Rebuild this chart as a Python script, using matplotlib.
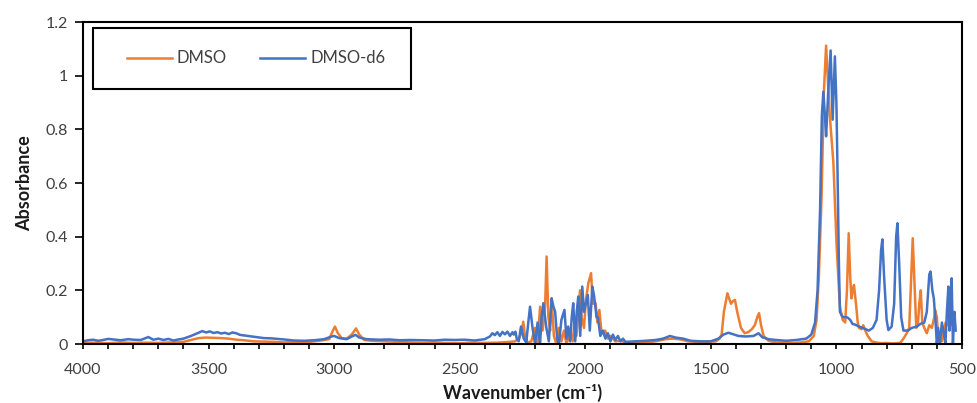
import matplotlib.pyplot as plt
from matplotlib.patches import Rectangle
from matplotlib.ticker import MultipleLocator, FuncFormatter

plt.rcParams['font.family'] = ['Lato', 'DejaVu Sans']

# DMSO spectrum
dmso_wn = [4000, 3950, 3900, 3850, 3800, 3750, 3700, 3650, 3600, 3570, 3540, 3510, 3480, 3450,
           3420, 3390, 3360, 3320, 3280, 3240, 3200, 3150, 3100, 3060, 3020, 3005, 2997, 2985,
           2970, 2950, 2930, 2913, 2900, 2880, 2850, 2800, 2760, 2700, 2650, 2600, 2550, 2500,
           2450, 2400, 2350, 2300, 2280, 2265, 2255, 2247, 2240, 2230, 2215, 2200, 2190, 2180,
           2170, 2160, 2154, 2147, 2140, 2134, 2125, 2115, 2105, 2095, 2085, 2075, 2060, 2050,
           2041, 2035, 2021, 2015, 2005, 1998, 1988, 1977, 1970, 1959, 1952, 1944, 1935, 1921,
           1910, 1900, 1880, 1860, 1840, 1800, 1760, 1720, 1680, 1650, 1620, 1590, 1550, 1510,
           1480, 1465, 1457, 1448, 1434, 1420, 1412, 1404, 1395, 1380, 1365, 1350, 1337, 1325,
           1315, 1308, 1300, 1290, 1270, 1240, 1200, 1170, 1140, 1110, 1090, 1079, 1070, 1059,
           1050, 1041, 1035, 1026, 1012, 999, 986, 975, 965, 958, 951, 945, 940, 935, 930, 922,
           915, 910, 900, 893, 885, 875, 860, 840, 820, 800, 780, 760, 745, 733, 720, 710, 702,
           696, 690, 682, 675, 670, 664, 658, 650, 640, 630, 620, 610, 607, 600, 595, 588, 580,
           572, 565, 555, 547, 540, 535, 528]
dmso_abs = [0.004, 0.005, 0.003, 0.006, 0.004, 0.005, 0.004, 0.006, 0.008, 0.015, 0.022, 0.024,
            0.023, 0.022, 0.020, 0.016, 0.014, 0.010, 0.009, 0.008, 0.006, 0.007, 0.008, 0.012,
            0.018, 0.050, 0.065, 0.040, 0.022, 0.020, 0.035, 0.058, 0.035, 0.015, 0.012, 0.010,
            0.008, 0.006, 0.004, 0.005, 0.004, 0.003, 0.005, 0.004, 0.005, 0.008, 0.010, 0.020,
            0.040, 0.083, 0.030, 0.005, 0.010, 0.060, 0.000, 0.139, 0.050, 0.140, 0.326, 0.100,
            0.050, 0.170, 0.030, 0.000, 0.060, 0.010, 0.050, 0.000, 0.040, 0.010, 0.096, 0.030,
            0.200, 0.100, 0.060, 0.160, 0.226, 0.264, 0.150, 0.152, 0.080, 0.127, 0.040, 0.050,
            0.020, 0.030, 0.010, 0.012, 0.006, 0.004, 0.006, 0.010, 0.018, 0.020, 0.017, 0.010,
            0.007, 0.008, 0.010, 0.020, 0.035, 0.120, 0.189, 0.150, 0.160, 0.164, 0.120, 0.060,
            0.040, 0.045, 0.055, 0.070, 0.100, 0.115, 0.070, 0.030, 0.012, 0.006, 0.005, 0.004,
            0.006, 0.010, 0.030, 0.090, 0.250, 0.550, 0.936, 1.112, 1.000, 0.848, 0.675, 0.363,
            0.139, 0.090, 0.080, 0.200, 0.413, 0.250, 0.170, 0.200, 0.220, 0.150, 0.080, 0.060,
            0.055, 0.070, 0.050, 0.030, 0.010, 0.005, 0.003, 0.004, 0.002, 0.003, 0.005, 0.020,
            0.040, 0.060, 0.250, 0.394, 0.250, 0.060, 0.080, 0.150, 0.200, 0.080, 0.060, 0.040,
            0.070, 0.060, 0.100, 0.127, 0.100, 0.030, 0.020, 0.010, 0.050, 0.080, 0.070, 0.127,
            0.070, 0.090, 0.070]

# DMSO-d6 spectrum
d6_wn = [4000, 3980, 3960, 3940, 3920, 3900, 3880, 3850, 3820, 3800, 3770, 3740, 3720, 3700,
         3680, 3660, 3640, 3620, 3600, 3570, 3540, 3525, 3510, 3495, 3480, 3465, 3450, 3435,
         3420, 3405, 3390, 3375, 3360, 3320, 3280, 3250, 3200, 3160, 3120, 3080, 3040,
         3010, 3000, 2980, 2950, 2930, 2915, 2900, 2870, 2820, 2780, 2740, 2700, 2650, 2600,
         2560, 2520, 2480, 2440, 2400, 2380, 2370, 2360, 2350, 2340, 2330, 2320, 2310, 2300,
         2290, 2285, 2278, 2273, 2265, 2256, 2245, 2235, 2227, 2220, 2210, 2200, 2190, 2180,
         2174, 2167, 2155, 2145, 2134, 2127, 2120, 2112, 2105, 2095, 2083, 2075, 2068, 2060,
         2054, 2048, 2040, 2034, 2028, 2020, 2012, 2005, 1998, 1990, 1982, 1972, 1965, 1955,
         1950, 1940, 1930, 1920, 1910, 1900, 1890, 1880, 1870, 1860, 1850, 1840, 1800, 1760,
         1720, 1690, 1663, 1640, 1610, 1580, 1540, 1500, 1470, 1450, 1430, 1410, 1390, 1360,
         1330, 1310, 1295, 1270, 1240, 1200, 1160, 1120, 1100, 1085, 1075, 1065, 1058, 1052,
         1045, 1041, 1032, 1023, 1015, 1006, 1000, 996, 990, 986, 978, 972, 960, 955, 945, 936,
         925, 910, 890, 871, 855, 840, 830, 822, 817, 810, 800, 793, 780, 770, 762, 757, 750,
         742, 733, 715, 700, 680, 665, 650, 640, 630, 625, 618, 612, 605, 600, 595, 588, 580,
         572, 566, 560, 554, 550, 545, 541, 536, 530, 525]
d6_abs = [0.010, 0.014, 0.016, 0.012, 0.015, 0.019, 0.017, 0.014, 0.018, 0.016, 0.015, 0.026,
          0.016, 0.020, 0.015, 0.019, 0.013, 0.017, 0.020, 0.030, 0.042, 0.048, 0.043, 0.047,
          0.041, 0.044, 0.039, 0.042, 0.037, 0.043, 0.040, 0.034, 0.032, 0.027, 0.022, 0.021,
          0.017, 0.013, 0.012, 0.014, 0.018, 0.028, 0.030, 0.022, 0.018, 0.028, 0.034, 0.024,
          0.018, 0.016, 0.017, 0.014, 0.015, 0.014, 0.013, 0.016, 0.015, 0.016, 0.013, 0.018,
          0.028, 0.040, 0.033, 0.044, 0.030, 0.045, 0.036, 0.046, 0.030, 0.044, 0.035, 0.046,
          0.020, 0.010, 0.065, 0.020, 0.005, 0.080, 0.139, 0.060, 0.000, 0.080, 0.000, 0.100,
          0.152, 0.060, 0.010, 0.170, 0.140, 0.120, 0.020, 0.000, 0.090, 0.127, 0.020, 0.065,
          0.010, 0.100, 0.152, 0.010, 0.120, 0.177, 0.030, 0.214, 0.120, 0.150, 0.183, 0.050,
          0.214, 0.180, 0.100, 0.100, 0.030, 0.050, 0.020, 0.040, 0.010, 0.035, 0.015, 0.030,
          0.010, 0.020, 0.008, 0.010, 0.012, 0.015, 0.020, 0.030, 0.024, 0.020, 0.012, 0.010,
          0.010, 0.020, 0.035, 0.042, 0.036, 0.030, 0.028, 0.030, 0.040, 0.025, 0.018, 0.015,
          0.012, 0.015, 0.020, 0.035, 0.080, 0.200, 0.500, 0.850, 0.940, 0.840, 0.774, 0.950,
          1.094, 0.836, 1.072, 0.900, 0.675, 0.300, 0.120, 0.105, 0.100, 0.100, 0.098, 0.090,
          0.075, 0.072, 0.065, 0.058, 0.050, 0.060, 0.090, 0.200, 0.350, 0.390, 0.250, 0.090,
          0.052, 0.065, 0.150, 0.400, 0.450, 0.300, 0.100, 0.050, 0.050, 0.060, 0.065, 0.075,
          0.080, 0.120, 0.260, 0.270, 0.200, 0.170, 0.080, 0.000, 0.060, 0.000, 0.080, 0.040,
          0.000, 0.120, 0.214, 0.050, 0.100, 0.245, 0.000, 0.120, 0.050]

fig = plt.figure(figsize=(9.77, 4.03), dpi=100)
ax = fig.add_axes([0.085, 0.1464, 0.8996, 0.799])

ax.plot(dmso_wn, dmso_abs, color='#ED7D31', lw=1.8, label='DMSO')
ax.plot(d6_wn, d6_abs, color='#4472C4', lw=1.8, label='DMSO-d6')

ax.set_xlim(4000, 500)
ax.set_ylim(0, 1.2)
ax.xaxis.set_major_locator(MultipleLocator(500))
ax.xaxis.set_minor_locator(MultipleLocator(100))
ax.yaxis.set_major_locator(MultipleLocator(0.2))
ax.yaxis.set_major_formatter(FuncFormatter(lambda v, p: '%g' % round(v, 1)))

for s in ax.spines.values():
    s.set_linewidth(1.5)
    s.set_color('black')

ax.tick_params(axis='x', which='both', direction='out', length=3.5, width=1.2,
               pad=10, labelsize=11.5, labelcolor='#404040')
ax.tick_params(axis='y', direction='out', length=6, width=1.2, pad=5,
               labelsize=11.5, labelcolor='#404040')

ax.set_xlabel('Wavenumber (cm⁻¹)', fontsize=13, fontweight='bold', color='#1a1a1a', labelpad=5)
ax.set_ylabel('Absorbance', fontsize=13, fontweight='bold', color='#1a1a1a', labelpad=9)

# legend box
ax.add_patch(Rectangle((0.0114, 0.792), 0.3616, 0.189, transform=ax.transAxes,
                       fill=False, ec='black', lw=1.5, zorder=5))
ax.legend(loc='center', bbox_to_anchor=(0.197, 0.887), frameon=False, ncol=2,
          fontsize=12, handlelength=2.7, handletextpad=0.3, columnspacing=2.0,
          borderpad=0, labelcolor='#404040')

fig.savefig('out.png', dpi=100)
